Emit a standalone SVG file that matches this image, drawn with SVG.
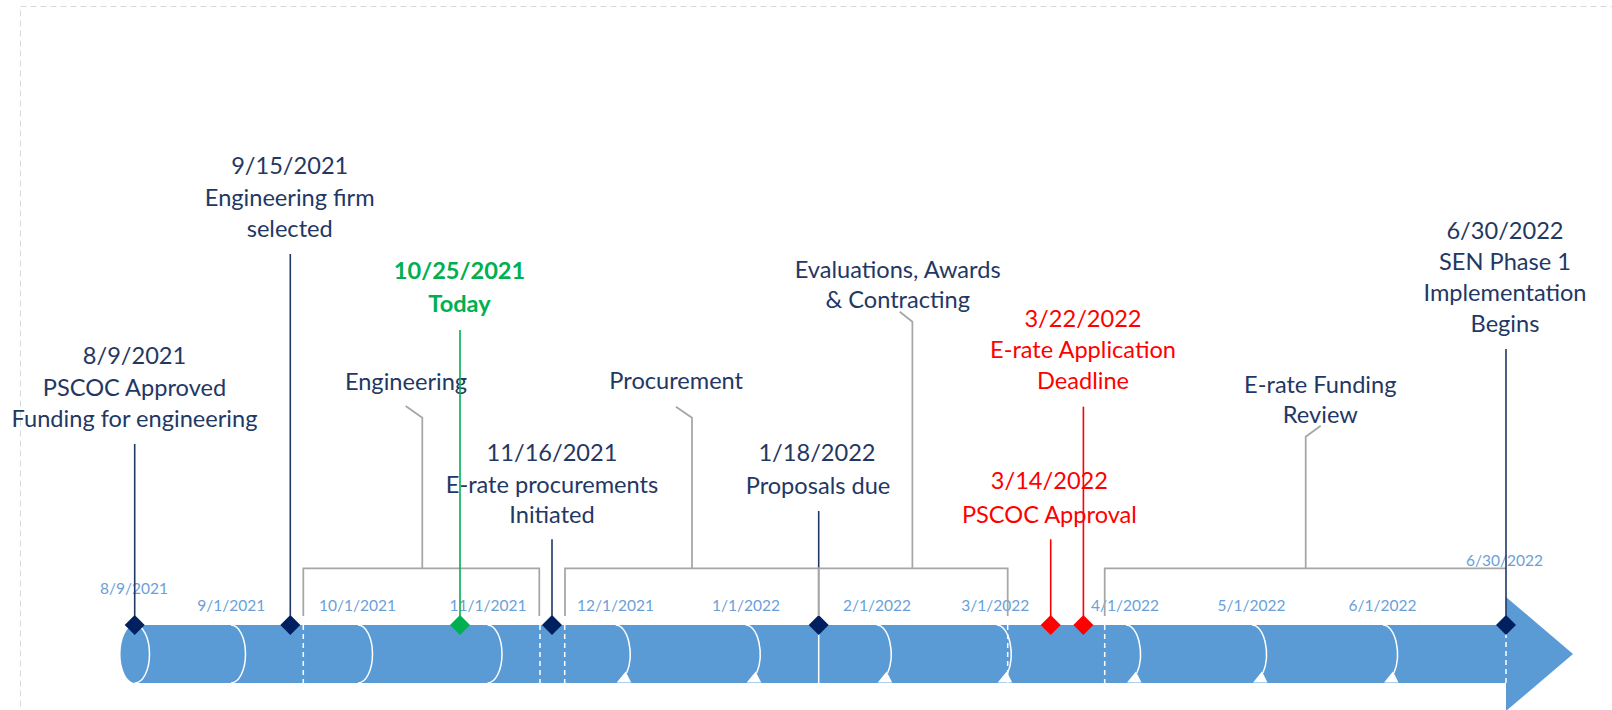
<svg xmlns="http://www.w3.org/2000/svg" width="1612" height="710" viewBox="0 0 1612 710">
<style>
.t{font-family:Lato,"Open Sans","Liberation Sans",sans-serif;font-size:23.6px;text-anchor:middle}
.nv{fill:#1F3864}
.rd{fill:#FF0000}
.gr{fill:#00B050;font-weight:bold}
.ax{font-family:Lato,"Liberation Sans",sans-serif;font-size:15.5px;fill:#6A9FD8;text-anchor:middle}
.br{fill:none;stroke:#A6A6A6;stroke-width:1.75}
.ln{fill:none;stroke-width:1.6}
.lnv{stroke:#1F3864}
.lgr{stroke:#00B050}
.lrd{stroke:#FF0000}
.wd{stroke:#fff;stroke-width:1.5;stroke-dasharray:5 4}
.arc{fill:none;stroke:#fff;stroke-width:1.5}
.ah{fill:#fff}
</style>
<defs>
<path id="dm" d="M0 -10 L10 0 L0 10 L-10 0Z"/>
<path id="ca" d="M0 0 A14.5 29 0 0 1 10.9 48"/>
<polygon id="cah" points="1,57.5 15.5,57.5 10,46.5"/>
</defs>
<rect x="20.5" y="6.5" width="1700" height="800" fill="none" stroke="#D9D9D9" stroke-width="1" stroke-dasharray="6 4"/>

<g id="timeline-bar">
<rect x="135" y="625" width="1371" height="58" fill="#5B9BD5"/>
<ellipse cx="135" cy="654" rx="14.5" ry="29" fill="#5B9BD5"/>
<path class="arc" d="M135 625 A14.5 29 0 0 1 135 683"/>
<polygon points="1506,597 1573,654 1506,711" fill="#5B9BD5"/>
<path class="arc" d="M231 625 A14.5 29 0 0 1 231 683"/>
<path class="arc" d="M358 625 A14.5 29 0 0 1 358 683"/>
<path class="arc" d="M487.5 625 A14.5 29 0 0 1 487.5 683"/>
<g class="arc"><use href="#ca" x="615.7" y="625"/><use href="#ca" x="745.7" y="625"/><use href="#ca" x="876.7" y="625"/><use href="#ca" x="996.7" y="625"/><use href="#ca" x="1126" y="625"/><use href="#ca" x="1252" y="625"/><use href="#ca" x="1383" y="625"/></g>
<g class="ah"><use href="#cah" x="615.7" y="625"/><use href="#cah" x="745.7" y="625"/><use href="#cah" x="876.7" y="625"/><use href="#cah" x="996.7" y="625"/><use href="#cah" x="1126" y="625"/><use href="#cah" x="1252" y="625"/><use href="#cah" x="1383" y="625"/></g>
<line class="wd" x1="303.3" y1="625" x2="303.3" y2="683"/>
<line class="wd" x1="540" y1="625" x2="540" y2="683"/>
<line class="wd" x1="564.7" y1="625" x2="564.7" y2="683"/>
<line class="wd" x1="1007.7" y1="625" x2="1007.7" y2="683"/>
<line class="wd" x1="1104.7" y1="625" x2="1104.7" y2="683"/>
<line class="wd" x1="1506" y1="633" x2="1506" y2="683"/>
<line x1="818.7" y1="625" x2="818.7" y2="683" stroke="#fff" stroke-width="1.5"/>
</g>

<g id="axis-labels" class="ax">
<text x="134" y="594.3">8/9/2021</text>
<text x="231.3" y="610.7">9/1/2021</text>
<text x="357.5" y="610.7">10/1/2021</text>
<text x="488" y="610.7">11/1/2021</text>
<text x="615.5" y="610.7">12/1/2021</text>
<text x="746" y="610.7">1/1/2022</text>
<text x="877" y="610.7">2/1/2022</text>
<text x="995.3" y="610.7">3/1/2022</text>
<text x="1125" y="610.7">4/1/2022</text>
<text x="1251.4" y="610.7">5/1/2022</text>
<text x="1382.5" y="610.7">6/1/2022</text>
<text x="1504.5" y="566">6/30/2022</text>
</g>

<g id="m-2021-08-09">
<text class="t nv" x="134.5" y="364.3">8/9/2021</text>
<text class="t nv" x="134.5" y="396">PSCOC Approved</text>
<text class="t nv" x="134.5" y="427">Funding for engineering</text>
<use href="#dm" x="134.7" y="625" fill="#002060"/>
</g>
<g id="m-2021-09-15">
<text class="t nv" x="289.7" y="174">9/15/2021</text>
<text class="t nv" x="289.7" y="206">Engineering firm</text>
<text class="t nv" x="289.7" y="237">selected</text>
<use href="#dm" x="290.3" y="625" fill="#002060"/>
</g>
<g id="m-2021-10-25">
<text class="t gr" x="459.5" y="279.3">10/25/2021</text>
<text class="t gr" x="459.5" y="311.7">Today</text>
<use href="#dm" x="460" y="625" fill="#00B050"/>
</g>
<g id="m-2021-11-16">
<text class="t nv" x="552" y="461">11/16/2021</text>
<text class="t nv" x="552" y="493">E-rate procurements</text>
<text class="t nv" x="552" y="523">Initiated</text>
<use href="#dm" x="552" y="625" fill="#002060"/>
</g>
<g id="m-2022-01-18">
<text class="t nv" x="817" y="460.7">1/18/2022</text>
<text class="t nv" x="818" y="494">Proposals due</text>
<use href="#dm" x="818.7" y="625" fill="#002060"/>
</g>
<g id="m-2022-03-14">
<text class="t rd" x="1049.4" y="489.3">3/14/2022</text>
<text class="t rd" x="1049.4" y="522.7">PSCOC Approval</text>
<use href="#dm" x="1050.7" y="625" fill="#FF0000"/>
</g>
<g id="m-2022-03-22">
<text class="t rd" x="1083" y="326.7">3/22/2022</text>
<text class="t rd" x="1083" y="358.3">E-rate Application</text>
<text class="t rd" x="1083" y="389.3">Deadline</text>
<use href="#dm" x="1083.4" y="625" fill="#FF0000"/>
</g>
<g id="m-2022-06-30">
<text class="t nv" x="1505" y="239">6/30/2022</text>
<text class="t nv" x="1505" y="270">SEN Phase 1</text>
<text class="t nv" x="1505" y="301">Implementation</text>
<text class="t nv" x="1505" y="332">Begins</text>
<use href="#dm" x="1506" y="625" fill="#002060"/>
</g>
<g id="p-engineering">
<text class="t nv" x="406" y="390">Engineering</text>
</g>
<g id="p-procurement">
<text class="t nv" x="676.2" y="389.3">Procurement</text>
</g>
<g id="p-evaluations">
<text class="t nv" x="897.7" y="278.3">Evaluations, Awards</text>
<text class="t nv" x="897.7" y="308.3">&amp; Contracting</text>
</g>
<g id="p-funding-review">
<text class="t nv" x="1320.3" y="393.3">E-rate Funding</text>
<text class="t nv" x="1320.3" y="423">Review</text>
</g>

<g id="connectors">
<line class="ln lnv" x1="818.7" y1="511" x2="818.7" y2="568.3"/>
<path class="br" d="M303.3 616 V568.3 H539.3 V616 M422.3 568.3 V417.7 L405.7 406"/>
<path class="br" d="M565 616 V568.3 H818.7 V616 M692 568.3 V417.7 L675.9 406.7"/>
<path class="br" d="M818.7 616 V568.3 H1007.7 V616 M912.4 568.3 V321.7 L899.7 311.7"/>
<path class="br" d="M1104.7 616 V568.3 H1506 M1305.7 568.3 V436.7 L1320.7 425.7"/>
<line class="ln lnv" x1="134.7" y1="444" x2="134.7" y2="616"/>
<line class="ln lnv" x1="290.3" y1="254" x2="290.3" y2="616"/>
<line class="ln lgr" x1="460" y1="330" x2="460" y2="616"/>
<line class="ln lnv" x1="552" y1="539.3" x2="552" y2="616"/>
<line class="ln lrd" x1="1050.7" y1="539.3" x2="1050.7" y2="616"/>
<line class="ln lrd" x1="1083.4" y1="406.7" x2="1083.4" y2="616"/>
<line class="ln lnv" x1="1506" y1="349" x2="1506" y2="616"/>
</g>
</svg>
